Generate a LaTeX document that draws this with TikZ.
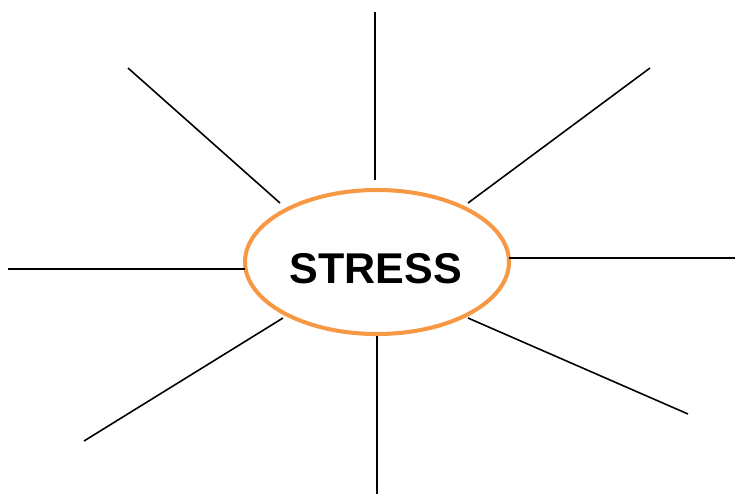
\documentclass[tikz,border=0pt]{standalone}
\usepackage{fontspec}
\setmainfont{Liberation Sans}
\usepackage{xcolor}
\usetikzlibrary{shapes.geometric}
\definecolor{ringorange}{RGB}{247,152,68}
\tikzset{
    ring/.style={draw=ringorange, line width=2.3pt, ellipse, inner sep=0pt, outer sep=0pt,
                 minimum width=5.28cm, minimum height=2.88cm},
    word/.style={font=\fontsize{24.5}{28}\selectfont\bfseries, inner sep=0pt},
    spoke/.style={black, line width=0.9pt},
}

\begin{document}
\begin{tikzpicture}[x=0.2mm, y=-0.2mm]
    \useasboundingbox (0,0) rectangle (735,495);
    \node[ring] (stress) at (377,262) {};
    \node[word] (title) at (376,269) {STRESS};
    % inner ends near the ring
    \coordinate (n-in) at (375,180);
    \coordinate (nw-in) at (280,203);
    \coordinate (ne-in) at (468,203);
    \coordinate (w-in) at (245,269);
    \coordinate (e-in) at (509,258);
    \coordinate (sw-in) at (283,318);
    \coordinate (s-in) at (377,336);
    \coordinate (se-in) at (468,318);
    % outer ends
    \coordinate (n-out) at (375,12);
    \coordinate (nw-out) at (128,68);
    \coordinate (ne-out) at (650,68);
    \coordinate (w-out) at (8,269);
    \coordinate (e-out) at (735,258);
    \coordinate (sw-out) at (84,441);
    \coordinate (s-out) at (377,494);
    \coordinate (se-out) at (688,414);
    \foreach \d in {n,nw,ne,w,e,sw,s,se}
        \draw[spoke] (\d-in) -- (\d-out);
\end{tikzpicture}
\end{document}
